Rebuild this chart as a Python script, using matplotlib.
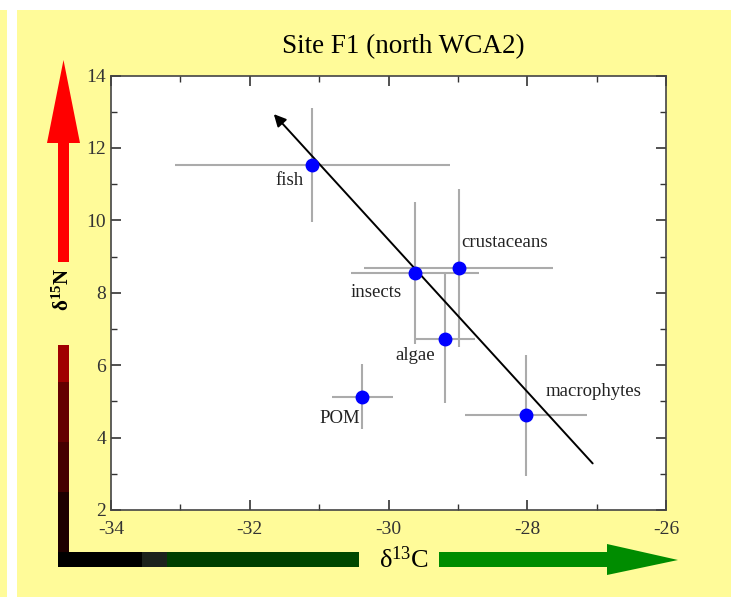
import matplotlib
matplotlib.use("Agg")
import matplotlib.pyplot as plt
from matplotlib.patches import Rectangle, Polygon

plt.rcParams['font.family'] = ['Liberation Serif', 'DejaVu Serif']
plt.rcParams['axes.unicode_minus'] = False

# food web members (d13C, d15N) with spread
groups = ['fish', 'crustaceans', 'insects', 'algae', 'POM', 'macrophytes']
d13c = [-31.10, -28.99, -29.62, -29.19, -30.38, -28.02]
d15n = [11.53, 8.69, 8.55, 6.73, 5.13, 4.61]
d13c_err = [1.98, 1.36, 0.92, 0.43, 0.44, 0.88]
d15n_err = [1.57, 2.18, 1.96, 1.78, 0.90, 1.68]

# where each name sits
label_x = [-31.42, -28.32, -30.18, -29.61, -30.70, -27.05]
label_y = [11.09, 9.38, 8.00, 6.26, 4.52, 5.27]

# trend arrow ends (start -> tip)
trend_x = [-27.03, -31.68]
trend_y = [3.23, 12.99]

fig = plt.figure(figsize=(7.36, 5.97), dpi=100)
fig.patch.set_facecolor('white')

#Background decoration in pixel coords
bg = fig.add_axes([0, 0, 1, 1], zorder=0)
bg.set_xlim(0, 736)
bg.set_ylim(597, 0)
bg.axis('off')
yellow = '#fffb99'
bg.add_patch(Rectangle((0, 10), 7, 587, color=yellow, lw=0))
bg.add_patch(Rectangle((17, 10), 714, 587, color=yellow, lw=0))

#Red arrow going up
bg.add_patch(Rectangle((58, 143), 11, 119, color='#ff0000', lw=0))
bg.add_patch(Polygon([(47, 143), (63.5, 60), (80, 143)], closed=True, color='#ff0000', lw=0))
#dark red steps down to the corner
steps = [(345, 382, '#a00000'), (382, 442, '#640000'), (442, 492, '#460000'),
         (492, 552, '#1e0000'), (552, 567, '#000000')]
for top, bot, c in steps:
    bg.add_patch(Rectangle((58, top), 11, bot - top, color=c, lw=0))

#Horizontal bar from black to green
hsteps = [(58, 142, '#000000'), (142, 167, '#1c221c'), (167, 300, '#003f00'), (300, 359, '#004700')]
for left, right, c in hsteps:
    bg.add_patch(Rectangle((left, 552), right - left, 15, color=c, lw=0))
bg.add_patch(Rectangle((439, 552), 168, 15, color='#008c00', lw=0))
bg.add_patch(Polygon([(607, 544), (678, 560), (607, 575)], closed=True, color='#008c00', lw=0))

bg.text(404, 560, 'δ$\\mathregular{^{13}}$C', fontsize=19, ha='center', va='center')
bg.text(63.5, 290, 'δ$\\mathregular{^{15}}$N', fontsize=15, fontweight='bold',
        rotation=90, ha='center', va='center')

#Main plot
ax = fig.add_axes([111 / 736, 1 - 510 / 597, 555 / 736, 434.5 / 597], zorder=1)
ax.set_facecolor('white')
ax.errorbar(d13c, d15n, xerr=d13c_err, yerr=d15n_err, fmt='none',
            ecolor='#ababab', elinewidth=1.5, capsize=0, zorder=2)
ax.annotate('', xy=(trend_x[1], trend_y[1]), xytext=(trend_x[0], trend_y[0]),
            arrowprops=dict(arrowstyle='-|>', color='black', lw=1.4, mutation_scale=18),
            zorder=3)
ax.plot(d13c, d15n, 'o', color='#0000ff', markersize=9, zorder=4)

for name, lx, ly in zip(groups, label_x, label_y):
    ax.text(lx, ly, name, fontsize=13.5, ha='center', va='center', color='#222222')

ax.set_xlim(-34, -26)
ax.set_ylim(2, 14)
ax.set_xticks([-34, -32, -30, -28, -26])
ax.set_yticks([2, 4, 6, 8, 10, 12, 14])
ax.set_xticks([-33, -31, -29, -27], minor=True)
ax.set_yticks([3, 5, 7, 9, 11, 13], minor=True)
ax.tick_params(which='both', direction='in', top=True, right=True, colors='#333333',
               labelsize=14)
ax.tick_params(which='major', length=7, width=1.2)
ax.tick_params(which='minor', length=4, width=1)
ax.tick_params(axis='x', pad=8)
for s in ax.spines.values():
    s.set_color('#444444')
    s.set_linewidth(1.2)

fig.text(403 / 736, 1 - 47 / 597, 'Site F1 (north WCA2)', fontsize=19.5,
         ha='center', va='center')

fig.savefig('out.png', dpi=100)
